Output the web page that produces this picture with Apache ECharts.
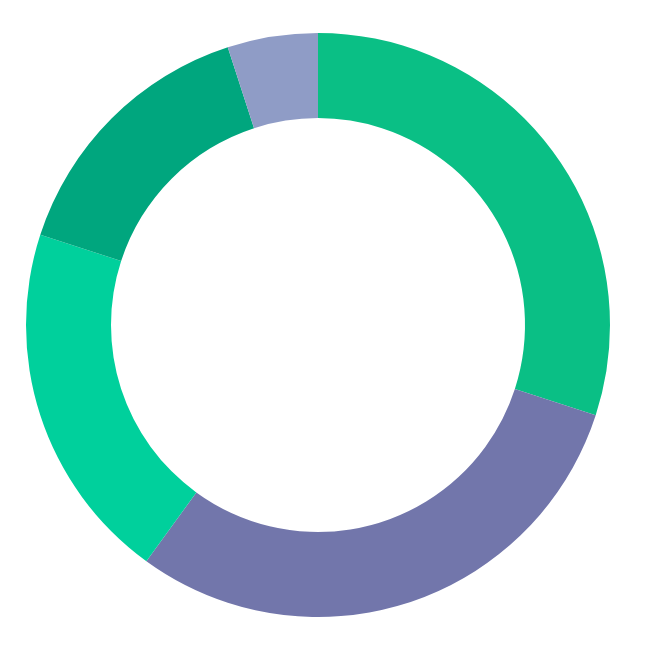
<!DOCTYPE html>
<html>
<head>
<meta charset="utf-8">
<script src="https://cdn.jsdelivr.net/npm/echarts@6/dist/echarts.min.js"></script>
<style>html,body{margin:0;padding:0;background:#fff}#c{width:650px;height:650px}</style>
</head>
<body>
<div id="c"></div>
<script>
const categories = ['A', 'B', 'C', 'D', 'E'];
const values = [30, 30, 20, 15, 5];
const colors = ['#0abf85', '#7276ab', '#00d09c', '#00a67e', '#8f9cc6'];

const chart = echarts.init(document.getElementById('c'));
chart.setOption({
  animation: false,
  series: [{
    type: 'pie',
    center: [318, 325],
    radius: [207, 292],
    startAngle: 90,
    clockwise: true,
    label: { show: false },
    labelLine: { show: false },
    itemStyle: { borderWidth: 0 },
    emphasis: { disabled: true },
    data: categories.map((n, i) => ({ name: n, value: values[i], itemStyle: { color: colors[i] } }))
  }]
});
</script>
</body>
</html>
